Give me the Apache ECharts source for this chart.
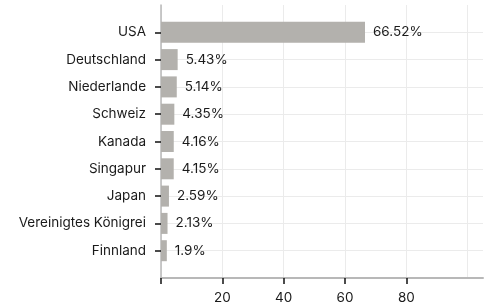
<!DOCTYPE html>
<html>
<head>
<meta charset="utf-8">
<script src="https://cdn.jsdelivr.net/npm/echarts@6/dist/echarts.min.js"></script>
<style>
  html, body { margin: 0; padding: 0; background: #fff; }
  #chart { width: 489px; height: 308px; }
</style>
</head>
<body>
<div id="chart"></div>
<script>
// Länder und Anteile (in %)
var countries = ["USA", "Deutschland", "Niederlande", "Schweiz", "Kanada", "Singapur", "Japan", "Vereinigtes Königrei", "Finnland"];
var shares = [66.52, 5.43, 5.14, 4.35, 4.16, 4.15, 2.59, 2.13, 1.9];
var xTicks = [0, 20, 40, 60, 80];

var FONT = "Inter";
var FS = 13.5;
var GRID_LEFT = 161, GRID_TOP = 5, GRID_BOTTOM = 30;
var X_MAX = 105;
var plotWidth = 489 - GRID_LEFT - 6;
// rechter Rand für Teilbereiche (Gitterlinien bis 100, Ticks bis 80)
function rightFor(v) { return 489 - GRID_LEFT - plotWidth * v / X_MAX; }

// leere Kategorien oben/unten als Abstand
var cats = [""].concat(countries, [""]);
var vals = ["-"].concat(shares, ["-"]);
var notPad = function (idx, val) { return val !== ""; };

var chart = echarts.init(document.getElementById("chart"));
chart.setOption({
  animation: false,
  textStyle: { fontFamily: FONT },
  grid: [
    { left: GRID_LEFT, right: rightFor(X_MAX), top: GRID_TOP, bottom: GRID_BOTTOM },
    { left: GRID_LEFT, right: rightFor(100), top: GRID_TOP, bottom: GRID_BOTTOM },
    { left: GRID_LEFT, right: rightFor(xTicks[xTicks.length - 1]), top: GRID_TOP, bottom: GRID_BOTTOM }
  ],
  xAxis: [
    {
      gridIndex: 0, type: "value", min: 0, max: X_MAX,
      axisLine: { show: true, lineStyle: { color: "#b8b8b8", width: 2 } },
      axisTick: { show: false }, axisLabel: { show: false }, splitLine: { show: false }
    },
    {
      gridIndex: 1, type: "value", min: 0, max: 100, interval: 20,
      axisLine: { show: false }, axisTick: { show: false }, axisLabel: { show: false },
      splitLine: { show: true, lineStyle: { color: "#ebebeb", width: 1 } }
    },
    {
      gridIndex: 2, type: "value", min: xTicks[0], max: xTicks[xTicks.length - 1], interval: 20,
      axisLine: { show: false },
      axisTick: { show: true, length: 6, lineStyle: { color: "#111", width: 1.5 } },
      axisLabel: {
        color: "#1a1a1a", fontSize: FS, fontFamily: FONT, margin: 13,
        formatter: function (v) { return v === 0 ? "" : String(v); }
      },
      splitLine: { show: false }
    }
  ],
  yAxis: [
    {
      gridIndex: 0, type: "category", data: cats, inverse: true, boundaryGap: false,
      axisLine: { show: true, lineStyle: { color: "#b8b8b8", width: 1.5 } },
      axisTick: { show: true, length: 6, interval: notPad, lineStyle: { color: "#111", width: 1.5 } },
      axisLabel: { color: "#1a1a1a", fontSize: FS, fontFamily: FONT, margin: 15, interval: 0 },
      splitLine: { show: true, interval: notPad, lineStyle: { color: "#ebebeb", width: 1 } }
    },
    { gridIndex: 1, type: "value", show: false },
    { gridIndex: 2, type: "value", show: false }
  ],
  series: [
    {
      type: "bar",
      xAxisIndex: 0,
      yAxisIndex: 0,
      data: vals,
      barWidth: 21,
      itemStyle: { color: "#b3b1ad" },
      label: {
        show: true,
        position: "right",
        distance: 8,
        color: "#1a1a1a",
        fontSize: FS,
        fontFamily: FONT,
        formatter: function (p) { return p.value + "%"; }
      }
    }
  ]
});
</script>
</body>
</html>
